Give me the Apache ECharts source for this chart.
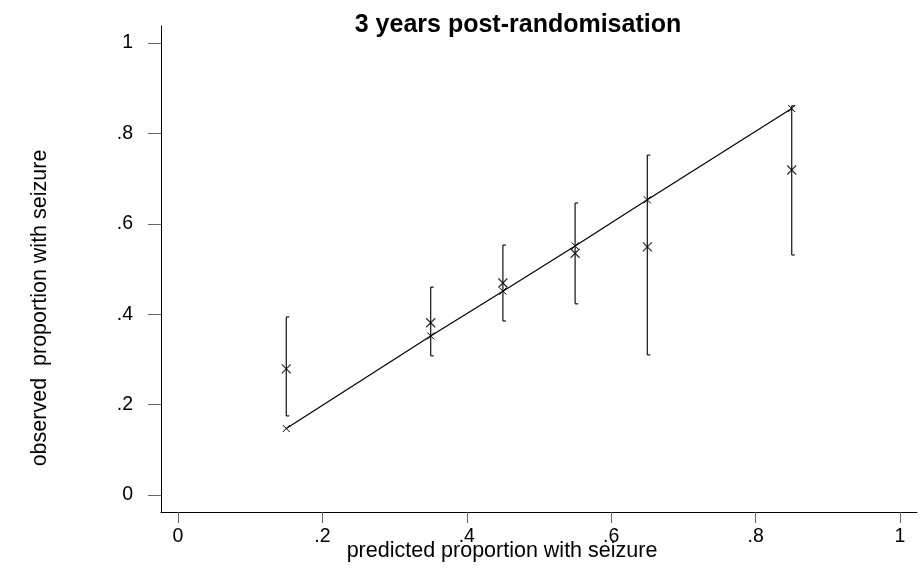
<!DOCTYPE html>
<html><head><meta charset="utf-8">
<script src="https://cdn.jsdelivr.net/npm/echarts@6/dist/echarts.min.js"></script>
<style>html,body{margin:0;padding:0;background:#fff}#c{width:920px;height:574px}</style>
</head><body><div id="c"></div>
<script>
// predicted proportion (groups)
const predicted = [0.15, 0.35, 0.45, 0.55, 0.65, 0.85];
// observed proportion with seizure
const observed = [0.279, 0.381, 0.469, 0.535, 0.549, 0.719];
const lower = [0.175, 0.308, 0.385, 0.423, 0.310, 0.531];
const upper = [0.394, 0.460, 0.553, 0.646, 0.752, 0.861];
// line of predicted vs predicted
const lineY = [0.147, 0.352, 0.451, 0.551, 0.653, 0.855];
const tickValues = [0, 0.2, 0.4, 0.6, 0.8, 1];
const tickLabels = ['0', '.2', '.4', '.6', '.8', '1'];

const FONT = 'Liberation Sans, Arial, Helvetica, sans-serif';
const crossPath = 'path://M0,0L10,10M10,0L0,10';
const fmt = v => { const i = tickValues.findIndex(t => Math.abs(t - v) < 1e-6); return i >= 0 ? tickLabels[i] : ''; };

const chart = echarts.init(document.getElementById('c'), null, {renderer: 'canvas'});
chart.setOption({
  animation: false,
  backgroundColor: '#fff',
  grid: {left: 161, right: 3, top: 26, bottom: 62, containLabel: false},
  xAxis: {
    type: 'value', min: -0.0235, max: 1.0235,
    axisLine: {show: true, onZero: false, lineStyle: {color: '#000', width: 1}},
    axisTick: {show: true, length: 11, customValues: tickValues, lineStyle: {color: '#666'}},
    axisLabel: {customValues: tickValues, formatter: fmt, color: '#000', fontSize: 19.5, fontFamily: FONT, margin: 15},
    splitLine: {show: false}
  },
  yAxis: {
    type: 'value', min: -0.0376, max: 1.0376,
    axisLine: {show: true, onZero: false, lineStyle: {color: '#000', width: 1}},
    axisTick: {show: true, length: 13, customValues: tickValues, lineStyle: {color: '#666'}},
    axisLabel: {customValues: tickValues, formatter: fmt, color: '#000', fontSize: 19.5, fontFamily: FONT, margin: 28},
    splitLine: {show: false}
  },
  graphic: [
    {type: 'text', x: 518, y: 25, style: {text: '3 years post-randomisation', font: 'bold 25px ' + FONT, fill: '#000', align: 'center', verticalAlign: 'middle'}},
    {type: 'text', x: 502, y: 551, style: {text: 'predicted proportion with seizure', font: '21.5px ' + FONT, fill: '#000', align: 'center', verticalAlign: 'middle'}},
    {type: 'text', x: 40, y: 308, rotation: Math.PI / 2, style: {text: 'observed  proportion with seizure', font: '21.5px ' + FONT, fill: '#000', align: 'center', verticalAlign: 'middle'}}
  ],
  series: [
    {
      type: 'custom',
      data: predicted.map((p, i) => [p, lower[i], upper[i]]),
      renderItem: (params, api) => {
        const lo = api.coord([api.value(0), api.value(1)]);
        const hi = api.coord([api.value(0), api.value(2)]);
        const x = lo[0];
        const st = {stroke: '#111', lineWidth: 1.2};
        return {type: 'group', children: [
          {type: 'line', shape: {x1: x, y1: lo[1], x2: x, y2: hi[1]}, style: st},
          {type: 'line', shape: {x1: x, y1: lo[1], x2: x + 3, y2: lo[1]}, style: st},
          {type: 'line', shape: {x1: x, y1: hi[1], x2: x + 3, y2: hi[1]}, style: st}
        ]};
      },
      z: 2
    },
    {
      type: 'line',
      data: predicted.map((p, i) => [p, lineY[i]]),
      symbol: crossPath, symbolSize: 7, showSymbol: true,
      lineStyle: {color: '#000', width: 1.2},
      itemStyle: {color: 'none', borderColor: '#000', borderWidth: 1},
      z: 3
    },
    {
      type: 'scatter',
      data: predicted.map((p, i) => [p, observed[i]]),
      symbol: crossPath, symbolSize: 9,
      itemStyle: {color: 'none', borderColor: '#000', borderWidth: 1.3},
      z: 4
    }
  ]
});
</script>
</body></html>
